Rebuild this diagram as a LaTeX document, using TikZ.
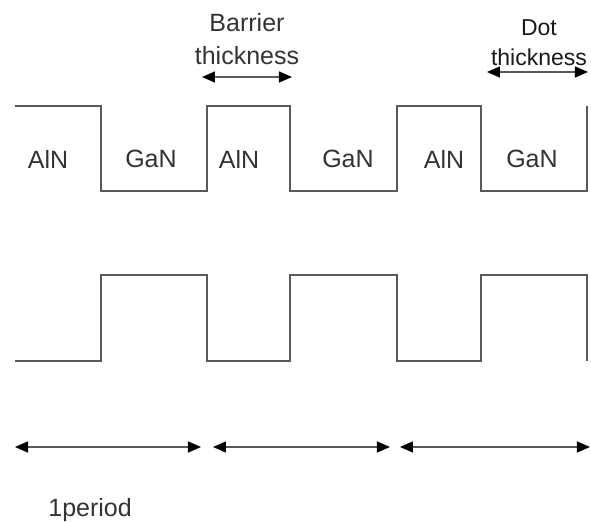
\documentclass[tikz,border=0pt]{standalone}
\usepackage{fontspec}
\setmainfont{Liberation Sans}
\usetikzlibrary{arrows.meta}

\begin{document}
\begin{tikzpicture}[
  x=0.5pt, y=-0.5pt,
  font=\fontsize{12.5}{16.5}\selectfont,
  wave/.style={draw=black!65, line width=1pt},
  lbl/.style={text=black!80, inner sep=0pt, align=center},
  dimarr/.style={{Triangle[length=6.5pt,width=5.5pt,color=black]}-{Triangle[length=6.5pt,width=5.5pt,color=black]}, black!65, line width=0.7pt}
]
\useasboundingbox (0,0) rectangle (591,522);
% upper and lower profiles
\draw[wave] (15,106) -- (101,106) -- (101,191) -- (207,191) -- (207,106) -- (290,106) -- (290,191)
  -- (397,191) -- (397,106) -- (481,106) -- (481,191) -- (587,191) -- (587,106);
\draw[wave] (15,361) -- (101,361) -- (101,275) -- (207,275) -- (207,361) -- (290,361) -- (290,275)
  -- (397,275) -- (397,361) -- (481,361) -- (481,275) -- (587,275) -- (587,361);

% layers
\node[lbl] (aln1) at (48,159) {AlN};
\node[lbl] (gan1) at (151,159) {GaN};
\node[lbl] (aln2) at (239,159) {AlN};
\node[lbl] (gan2) at (348,159) {GaN};
\node[lbl] (aln3) at (444,159) {AlN};
\node[lbl] (gan3) at (532,159) {GaN};

% thickness labels
\node[lbl] (barrier) at (247,39) {Barrier\\thickness};
\node[lbl, text=black!90, font=\fontsize{11.5}{15}\selectfont] (dot) at (539,43) {Dot\\thickness};
\node[lbl, anchor=base west] (period) at (48,517) {1period};

\coordinate (bl) at (202,77);
\coordinate (br) at (292,77);
\coordinate (dl) at (487,72);
\coordinate (dr) at (588,72);
\draw[dimarr] (bl) -- (br);
\draw[dimarr] (dl) -- (dr);

% periods
\coordinate (p1l) at (15,447);
\coordinate (p1r) at (201,447);
\coordinate (p2l) at (213,447);
\coordinate (p2r) at (390,447);
\coordinate (p3l) at (400,447);
\coordinate (p3r) at (590,447);
\draw[dimarr] (p1l) -- (p1r);
\draw[dimarr] (p2l) -- (p2r);
\draw[dimarr] (p3l) -- (p3r);
\end{tikzpicture}
\end{document}
